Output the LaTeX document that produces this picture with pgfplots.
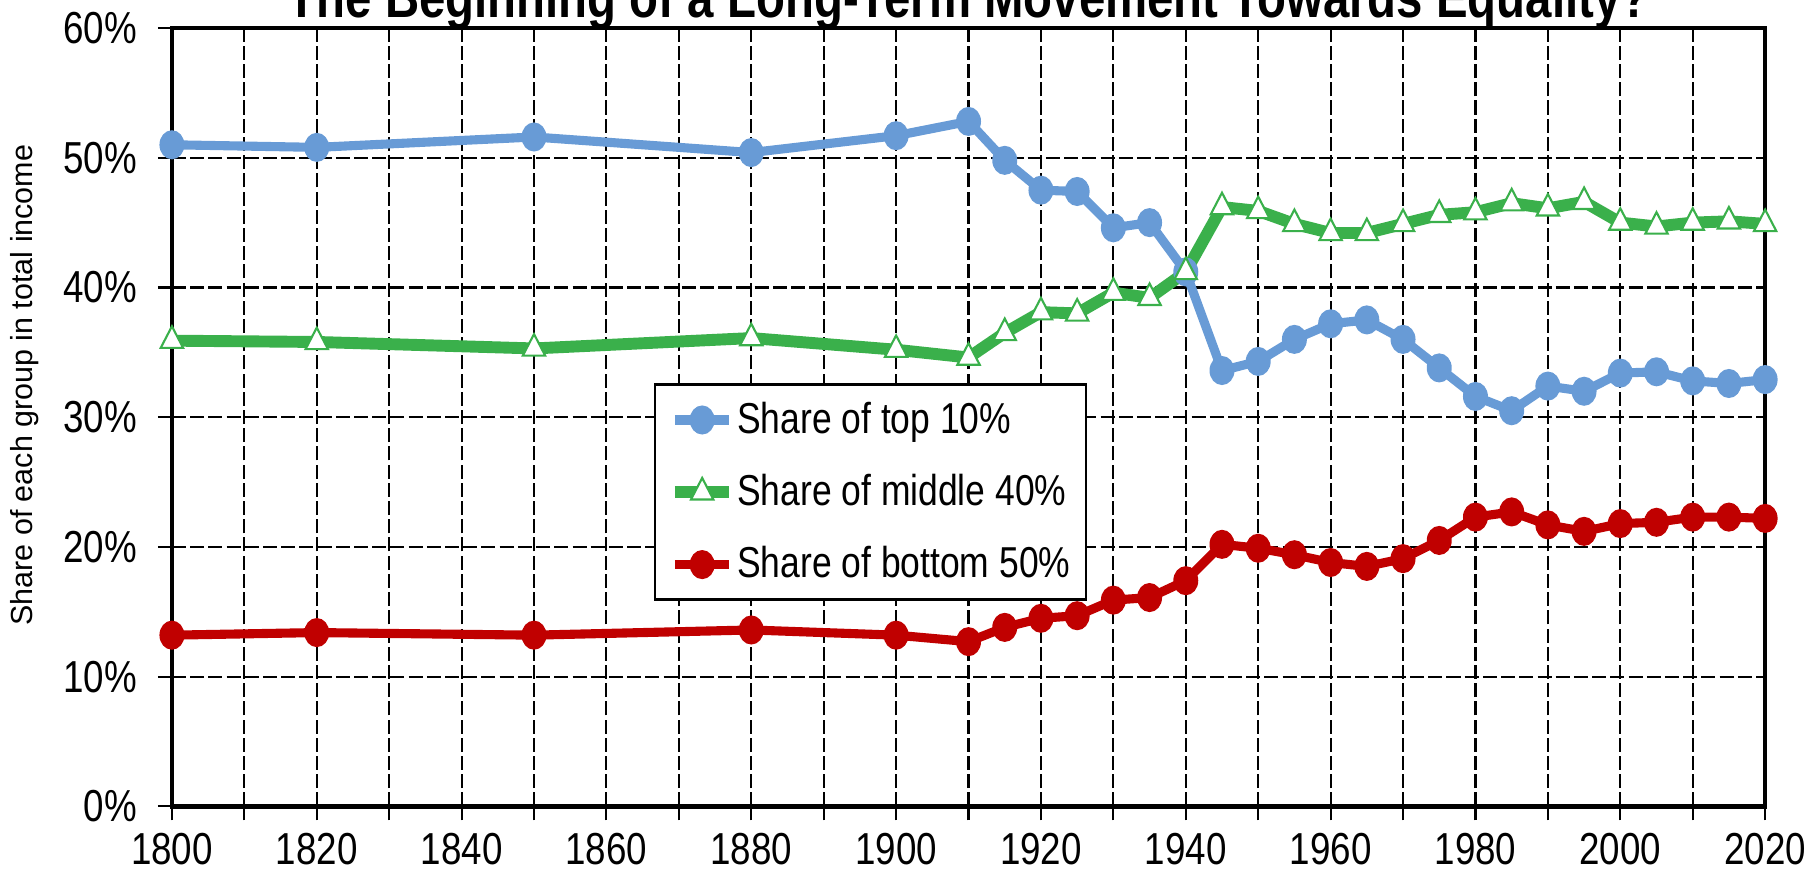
\documentclass[border=0pt]{standalone}
\usepackage{fontspec}
\setmainfont{Liberation Sans}[FakeStretch=0.82]
\newfontfamily\ylabfont{Liberation Sans}
\usepackage{pgfplots}
\pgfplotsset{compat=1.18}
\usetikzlibrary{calc}

\definecolor{topblue}{RGB}{104,155,214}
\definecolor{midgreen}{RGB}{58,176,75}
\definecolor{botred}{RGB}{192,0,0}

\begin{document}
\begin{tikzpicture}
\begin{axis}[
  name=ax, scale only axis, width=455pt, height=222.3pt,
  xmin=1800, xmax=2020, ymin=0, ymax=60, clip=false,
  xtick={1800,1820,...,2020},
  xticklabels={1800,1820,1840,1860,1880,1900,1920,1940,1960,1980,2000,2020},
  minor xtick={1810,1830,...,2010},
  ytick={0,10,...,60},
  yticklabels={0\%,10\%,20\%,30\%,40\%,50\%,60\%},
  xtick pos=bottom, ytick pos=left,
  tick align=outside, major tick length=4pt, minor tick length=4pt,
  tick style={black, line width=0.6pt},
  tick label style={font=\fontsize{12.8}{14}\selectfont},
  yticklabel style={xshift=-2.5pt},
  grid=both,
  major grid style={black, line width=0.6pt, dash pattern=on 4pt off 1.2pt},
  minor grid style={black, line width=0.6pt, dash pattern=on 4pt off 1.2pt},
  axis line style={line width=1.2pt},
  legend style={at={(axis cs:1866.5,32.6)}, anchor=north west, draw=black, line width=0.8pt,
    fill=white, font=\fontsize{12.35}{14}\selectfont, row sep=6.2pt,
    inner xsep=4pt, inner ysep=2.8pt, nodes={inner xsep=0.5pt}},
  legend cell align=left,
  legend image code/.code={
    \draw[mark repeat=2, mark phase=2] plot coordinates {(0pt,0pt) (7.8pt,0pt) (15.6pt,0pt)};
  },
]
\addplot[topblue, line width=2.6pt, mark=*, mark size=3.9pt, mark options={xscale=0.85, line width=0.5pt}]
coordinates {
(1800,51.0) (1820,50.8) (1850,51.6) (1880,50.4) (1900,51.7) (1910,52.8)
(1915,49.8) (1920,47.5) (1925,47.4) (1930,44.6) (1935,45.0) (1940,41.2)
(1945,33.6) (1950,34.3) (1955,36.0) (1960,37.2) (1965,37.5) (1970,36.0)
(1975,33.8) (1980,31.6) (1985,30.5) (1990,32.4) (1995,32.0) (2000,33.4)
(2005,33.5) (2010,32.8) (2015,32.6) (2020,32.9)
};
\addlegendentry{Share of top 10\%}
\addplot[midgreen, line width=3.4pt, mark=triangle*, mark size=4.1pt, mark options={xscale=0.9, fill=white, draw=midgreen, line width=0.6pt}]
coordinates {
(1800,35.9) (1820,35.8) (1850,35.3) (1880,36.1) (1900,35.2) (1910,34.6)
(1915,36.5) (1920,38.1) (1925,38.0) (1930,39.6) (1935,39.2) (1940,41.2)
(1945,46.2) (1950,45.9) (1955,44.9) (1960,44.2) (1965,44.2) (1970,44.9)
(1975,45.6) (1980,45.8) (1985,46.5) (1990,46.1) (1995,46.6) (2000,45.0)
(2005,44.7) (2010,45.0) (2015,45.1) (2020,44.9)
};
\addlegendentry{Share of middle 40\%}
\addplot[botred, line width=2.6pt, mark=*, mark size=3.9pt, mark options={xscale=0.85, line width=0.5pt}]
coordinates {
(1800,13.2) (1820,13.4) (1850,13.2) (1880,13.6) (1900,13.2) (1910,12.7)
(1915,13.8) (1920,14.5) (1925,14.7) (1930,15.9) (1935,16.1) (1940,17.4)
(1945,20.2) (1950,19.9) (1955,19.4) (1960,18.8) (1965,18.5) (1970,19.1)
(1975,20.5) (1980,22.3) (1985,22.7) (1990,21.7) (1995,21.2) (2000,21.8)
(2005,21.9) (2010,22.3) (2015,22.3) (2020,22.2)
};
\addlegendentry{Share of bottom 50\%}
\end{axis}
\node[rotate=90, font=\ylabfont\fontsize{8.7}{10}\selectfont] at ($(ax.south west)+(-42pt,120.3pt)$)
  {Share of each group in total income};
\node[anchor=base, font=\bfseries\fontsize{16.5}{19}\selectfont] at ($(ax.north)+(0,3pt)$)
  {The Beginning of a Long-Term Movement Towards Equality?};
\pgfresetboundingbox
\path ($(ax.south west)+(-49.1pt,-19.1pt)$) rectangle ($(ax.north east)+(15.1pt,8pt)$);
\end{tikzpicture}
\end{document}
